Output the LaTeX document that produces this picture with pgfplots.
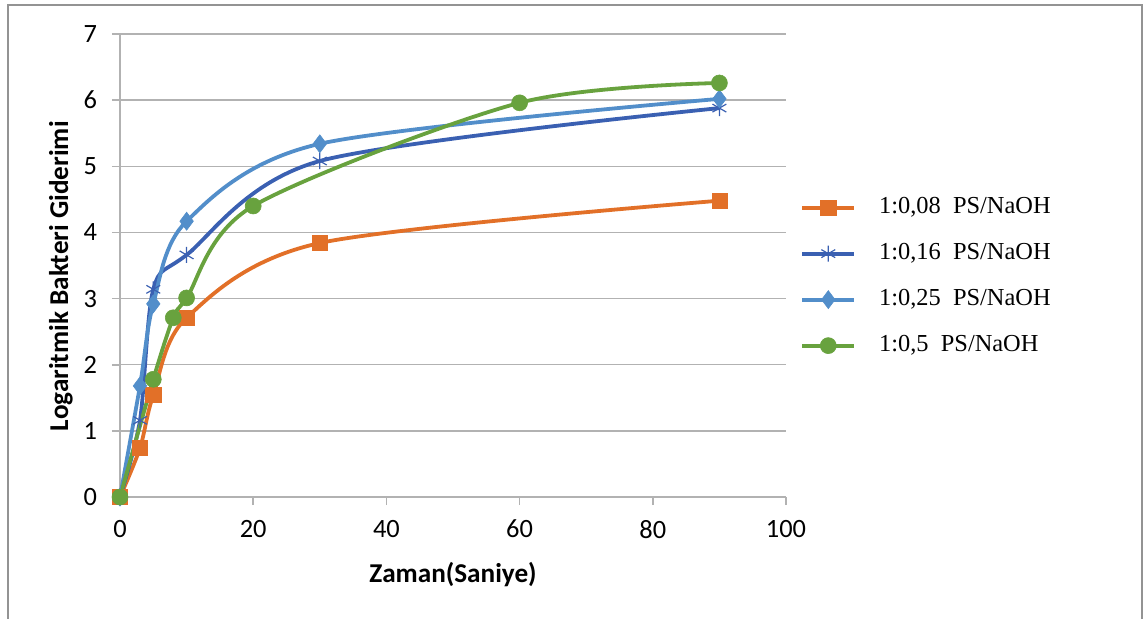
\documentclass[border=0pt]{standalone}
\usepackage{pgfplots}
\pgfplotsset{compat=1.18}
\usepackage{fontspec}
\setmainfont{Carlito}
\newfontfamily\timesfont{Liberation Serif}

\definecolor{cOrange}{RGB}{226,112,40}
\definecolor{cDark}{RGB}{58,96,178}
\definecolor{cLight}{RGB}{82,142,202}
\definecolor{cGreen}{RGB}{104,162,62}
\definecolor{cGrid}{RGB}{178,178,178}

\begin{document}
\begin{tikzpicture}
\useasboundingbox (-60pt,-60.5pt) rectangle (512pt,248.5pt);
% outer chart frame (bottom edge is outside the picture)
\draw[color=gray!85, line width=0.9pt] (-56pt,-62pt) -- (-56pt,246pt) -- (511pt,246pt) -- (511pt,-62pt);
\begin{axis}[
    at={(0,0)}, anchor=south west,
    scale only axis,
    width=333pt, height=231.5pt,
    xmin=0, xmax=100,
    ymin=0, ymax=7,
    xtick={0,20,40,60,80,100},
    ytick={0,1,2,3,4,5,6,7},
    axis lines*=left,
    axis line style={cGrid, line width=0.8pt},
    ymajorgrids=true,
    grid style={cGrid, line width=0.75pt},
    tick align=outside,
    major tick length=4pt,
    tick style={cGrid, line width=0.8pt},
    ticklabel style={font=\fontsize{13.2}{15}\selectfont},
    /pgf/number format/assume math mode=true,
    xticklabel style={yshift=-4pt},
    yticklabel style={xshift=-4pt},
    every axis x label/.style={at={(rel axis cs:0.5,0)}, yshift=-39pt, anchor=center},
    every axis y label/.style={at={(rel axis cs:0,0.477)}, xshift=-29.5pt, rotate=90, anchor=center},
    label style={font=\bfseries\fontsize{13.6}{15}\selectfont},
    xlabel={Zaman(Saniye)},
    ylabel={Logaritmik Bakteri Giderimi},
    legend style={
        at={(1.021,0.476)}, anchor=west,
        draw=none, fill=none,
        inner sep=0pt,
        font=\timesfont\fontsize{12.2}{14}\selectfont,
        row sep=11pt, column sep=11.5pt,
        nodes={inner sep=0pt, text height=9pt, text depth=3pt},
    },
    legend cell align=left,
    legend image code/.code={
        \draw[mark repeat=2, mark phase=2, #1] plot coordinates {(0pt,0pt) (13pt,0pt) (26pt,0pt)};
    },
]

% 1:0,08
\addplot[color=cOrange, line width=1.9pt, smooth, mark=square*, mark size=3.8pt,
    mark options={solid, fill=cOrange, line width=0.3pt}]
    coordinates {(0,0) (3,0.74) (5,1.54) (10,2.71) (30,3.84) (90,4.48)};
% 1:0,16
\addplot[color=cDark, line width=1.9pt, smooth, mark=asterisk, mark size=4pt,
    mark options={solid, line width=0.6pt}]
    coordinates {(0,0) (3,1.16) (5,3.14) (10,3.66) (30,5.08) (90,5.88)};
% 1:0,25
\addplot[color=cLight, line width=1.9pt, smooth, mark=diamond*, mark size=4.5pt,
    mark options={solid, fill=cLight, line width=0.3pt}]
    coordinates {(0,0) (3,1.68) (5,2.92) (10,4.17) (30,5.34) (90,6.02)};
% 1:0,5
\addplot[color=cGreen, line width=1.9pt, smooth, mark=*, mark size=4pt,
    mark options={solid, fill=cGreen, line width=0.3pt}]
    coordinates {(0,0) (5,1.78) (8,2.71) (10,3.01) (20,4.40) (60,5.96) (90,6.26)};

\legend{{1:0,08\ \ PS/NaOH}, {1:0,16\ \ PS/NaOH}, {1:0,25\ \ PS/NaOH}, {1:0,5\ \ PS/NaOH}}
\end{axis}
\end{tikzpicture}
\end{document}
